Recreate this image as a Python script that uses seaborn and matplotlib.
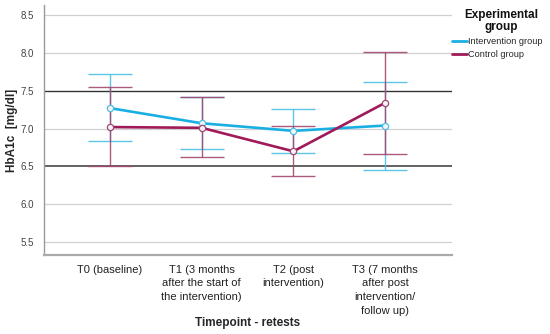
import matplotlib
matplotlib.use("Agg")
import matplotlib.pyplot as plt
import seaborn as sns
import pandas as pd

timepoints = [
    "T0 (baseline)",
    "T1 (3 months\nafter the start of\nthe intervention)",
    "T2 (post\nintervention)",
    "T3 (7 months\nafter post\nintervention/\nfollow up)",
]
groups = ["Intervention group", "Control group"]

intervention_mean = [7.27, 7.07, 6.97, 7.04]
intervention_low = [6.83, 6.73, 6.68, 6.46]
intervention_high = [7.72, 7.41, 7.26, 7.62]

control_mean = [7.02, 7.01, 6.70, 7.34]
control_low = [6.50, 6.62, 6.37, 6.66]
control_high = [7.55, 7.41, 7.04, 8.01]

y_ticks = [5.5, 6.0, 6.5, 7.0, 7.5, 8.0, 8.5]
ref_lines = [6.5, 7.5]

colors = {"Intervention group": "#1aafe3", "Control group": "#a01a5a"}
err_colors = {"Intervention group": "#4cc0e3", "Control group": "#a2476f"}

df = pd.DataFrame({
    "pos": list(range(len(timepoints))) * 2,
    "group": [groups[0]] * 4 + [groups[1]] * 4,
    "mean": intervention_mean + control_mean,
    "low": intervention_low + control_low,
    "high": intervention_high + control_high,
})

sns.set_theme(style="white")
plt.rcParams["font.family"] = ["Liberation Sans", "DejaVu Sans"]

fig = plt.figure(figsize=(5.5, 3.34), dpi=100)
ax = fig.add_axes([0.08, 0.236, 0.742, 0.749])

for y in y_ticks:
    if y not in ref_lines:
        ax.axhline(y, color="#d0d0d0", lw=0.9, zorder=0)
for y in ref_lines:
    ax.axhline(y, color="#333333" if y == 7.5 else "#555555",
               lw=1.0 if y == 7.5 else 1.3, zorder=1)

for g in groups:
    sub = df[df["group"] == g]
    ax.errorbar(sub["pos"], sub["mean"],
                yerr=[sub["mean"] - sub["low"], sub["high"] - sub["mean"]],
                fmt="none", ecolor=err_colors[g], elinewidth=1.0,
                capsize=16, capthick=1.0, alpha=0.9, zorder=2)

sns.lineplot(data=df, x="pos", y="mean", hue="group", hue_order=groups,
             palette=colors, lw=1.9, ax=ax, zorder=3, legend=False)

# hollow point markers on top of the lines
for g in groups:
    sub = df[df["group"] == g]
    ax.plot(sub["pos"], sub["mean"], ls="none", marker="o", markersize=4.5,
            markerfacecolor="#f4f4f4", markeredgecolor=err_colors[g],
            markeredgewidth=0.9, zorder=4)

ax.set_xlim(-0.72, 3.73)
ax.set_ylim(5.33, 8.63)
ax.set_yticks(y_ticks)
ax.set_yticklabels([f"{y:.1f}" for y in y_ticks], fontsize=7, color="#444444")
ax.set_xticks(range(len(timepoints)))
ax.set_xticklabels(timepoints, fontsize=8, color="#222222", linespacing=1.45,
                   va="top")
ax.tick_params(axis="y", length=0, pad=7)
ax.tick_params(axis="x", length=0, pad=7)

for side in ["top", "right"]:
    ax.spines[side].set_visible(False)
ax.spines["left"].set_color("#999999")
ax.spines["left"].set_linewidth(1.0)
ax.spines["bottom"].set_color("#aaaaaa")
ax.spines["bottom"].set_linewidth(1.6)

ax.set_xlabel("Timepoint - retests", fontsize=8.5, fontweight="bold")
ax.xaxis.set_label_coords(0.5, -(317 - 255) / 250.0)
ax.set_ylabel("HbA1c  [mg/dl]", fontsize=8.5, fontweight="bold")
ax.yaxis.set_label_coords(-(44 - 18) / 408.0, 0.5)

# legend title drawn separately so its gap to the entries can match
fig.text(501 / 550, 1 - 21 / 334, "Experimental\ngroup", ha="center",
         va="center", fontsize=8.5, fontweight="bold", linespacing=1.1,
         color="#111111")
leg = fig.legend(handles=[plt.Line2D([], [], color=colors[g], lw=2) for g in groups],
                 labels=groups, loc="upper left",
                 bbox_to_anchor=(452 / 550, 1 - 37 / 334),
                 frameon=False, fontsize=6.6, handlelength=1.6,
                 handletextpad=0.2, labelspacing=0.45, borderaxespad=0,
                 borderpad=0)

fig.savefig("out.png", dpi=100)
